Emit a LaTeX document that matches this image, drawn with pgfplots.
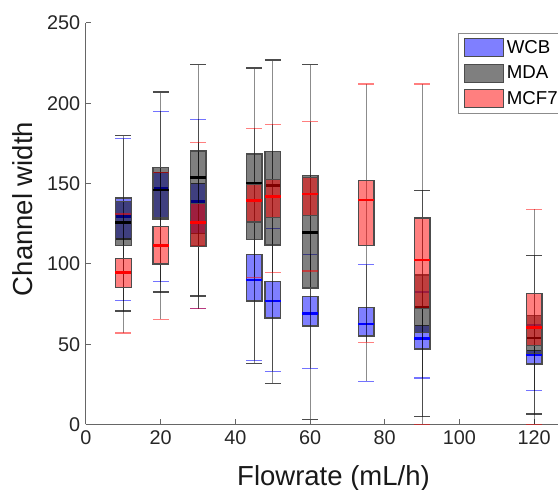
\documentclass[border=0pt]{standalone}
\usepackage{fontspec}
\setmainfont{Liberation Sans}
\usepackage{pgfplots}
\pgfplotsset{compat=1.18}
\usepgfplotslibrary{statistics}

% whisker line runs the full height, caps coloured per series
\pgfplotsset{
  boxplot/every whisker line/.style={draw=black, draw opacity=0.45, line width=0.55pt},
  boxplot/draw/lower whisker/.code={%
    \draw[/pgfplots/boxplot/every whisker line]
      (boxplot box cs:\pgfplotsboxplotvalue{lower whisker},0.5) --
      (boxplot box cs:\pgfplotsboxplotvalue{upper whisker},0.5);
    \draw[/pgfplots/boxplot/every whisker/.try]
      (boxplot whisker cs:\pgfplotsboxplotvalue{lower whisker},0) --
      (boxplot whisker cs:\pgfplotsboxplotvalue{lower whisker},1);
  },
  boxplot/draw/upper whisker/.code={%
    \draw[/pgfplots/boxplot/every whisker/.try]
      (boxplot whisker cs:\pgfplotsboxplotvalue{upper whisker},0) --
      (boxplot whisker cs:\pgfplotsboxplotvalue{upper whisker},1);
  },
  wcb/.style={
    boxplot/every box/.style={draw=black!70, line width=0.8pt, fill=blue, fill opacity=0.5},
    boxplot/every median/.style={draw=blue, line width=1.5pt},
    boxplot/every whisker/.style={draw=blue, draw opacity=0.55, line width=0.75pt}},
  mda/.style={
    boxplot/every box/.style={draw=black!70, line width=0.8pt, fill=black, fill opacity=0.5},
    boxplot/every median/.style={draw=black, line width=1.5pt},
    boxplot/every whisker/.style={draw=black!70, line width=0.75pt}},
  mcf/.style={
    boxplot/every box/.style={draw=black!70, line width=0.8pt, fill=red, fill opacity=0.5},
    boxplot/every median/.style={draw=red, line width=1.5pt},
    boxplot/every whisker/.style={draw=red, draw opacity=0.5, line width=0.75pt}},
}

% style, position, lower whisker, Q1, median, Q3, upper whisker
\newcommand\bp[7]{\addplot[forget plot, #1, boxplot prepared={draw direction=y,
  draw position=#2, lower whisker=#3, lower quartile=#4, median=#5,
  upper quartile=#6, upper whisker=#7}] coordinates {};}

\begin{document}
\begin{tikzpicture}
\useasboundingbox (-51.6pt,-39.3pt) rectangle (283.2pt,254.7pt);
\begin{axis}[
  scale only axis,
  width=283.2pt, height=240.9pt,
  xmin=0, xmax=126.4, ymin=0, ymax=250,
  axis x line*=bottom, axis y line*=left,
  axis line style={draw=black!60, line width=0.6pt},
  tick align=inside, major tick length=3pt,
  tick style={draw=black!60, line width=0.6pt},
  xtick={0,20,...,120}, ytick={0,50,...,250},
  /pgf/number format/assume math mode=true,
  ticklabel style={font=\fontsize{11.9}{13}\selectfont, text=black!85},
  xlabel={Flowrate (mL/h)}, ylabel={Channel width},
  label style={font=\fontsize{16.5}{18}\selectfont, text=black!90},
  xlabel style={at={(axis description cs:0.5,0)}, anchor=base, xshift=6.9pt, yshift=-36.9pt},
  ylabel style={at={(axis description cs:-0.1335,0.537)}, anchor=center},
  boxplot/box extend=4.2, boxplot/whisker extend=4.2,
  legend style={at={(axis description cs:0,1)}, anchor=north west,
    xshift=223.2pt, yshift=-6pt, draw=black!45, line width=0.6pt,
    font=\fontsize{11.2}{12}\selectfont, cells={anchor=west}, row sep=2pt},
  legend image code/.code={\draw[#1] (0pt,-5.4pt) rectangle (23.4pt,5.4pt);},
]
\addlegendimage{draw=black!70, fill=blue, fill opacity=0.5}
\addlegendentry{WCB}
\addlegendimage{draw=black!70, fill=black, fill opacity=0.5}
\addlegendentry{MDA}
\addlegendimage{draw=black!70, fill=red, fill opacity=0.5}
\addlegendentry{MCF7}

% WCB
\bp{wcb}{10}{77}{115.5}{129.5}{141}{178}
\bp{wcb}{20}{89}{128}{147}{157}{195}
\bp{wcb}{30}{72}{119}{138.8}{150}{190}
\bp{wcb}{45}{40}{77}{90}{106}{115}
\bp{wcb}{50}{33}{66.4}{77}{89}{122}
\bp{wcb}{60}{35}{61.3}{69}{79.5}{106}
\bp{wcb}{75}{27}{55}{62.7}{73}{99.4}
\bp{wcb}{90}{29}{47}{53.6}{61.5}{82.5}
\bp{wcb}{120}{21}{37.7}{43.3}{46}{62}
% MDA
\bp{mda}{10}{70.7}{111.6}{125.8}{139}{180}
\bp{mda}{20}{82.5}{129}{146}{160}{207}
\bp{mda}{30}{80}{111.6}{153.7}{170.4}{224}
\bp{mda}{45}{38}{115.3}{150}{168.5}{222}
\bp{mda}{50}{25.4}{111.8}{148.7}{170}{227}
\bp{mda}{60}{3}{85}{119.5}{155}{224}
\bp{mda}{90}{5}{57.3}{73}{93}{145.6}
\bp{mda}{120}{6.6}{44}{54}{67.7}{105}
% MCF7
\bp{mcf}{10}{57}{85.2}{94.5}{103.3}{131}
\bp{mcf}{20}{65.6}{100}{111.6}{123.3}{157}
\bp{mcf}{30}{72.2}{111}{125.8}{137.4}{175.7}
\bp{mcf}{45}{91.6}{126}{139.5}{149.5}{184.5}
\bp{mcf}{50}{94.5}{129}{142}{152.5}{187}
\bp{mcf}{60}{95.6}{130}{143.5}{154}{188.5}
\bp{mcf}{75}{51.2}{111.6}{139.9}{152}{212}
\bp{mcf}{90}{0}{72.2}{102.3}{128.5}{212}
\bp{mcf}{120}{0}{49}{60.4}{81.5}{134}
\end{axis}
\end{tikzpicture}
\end{document}
